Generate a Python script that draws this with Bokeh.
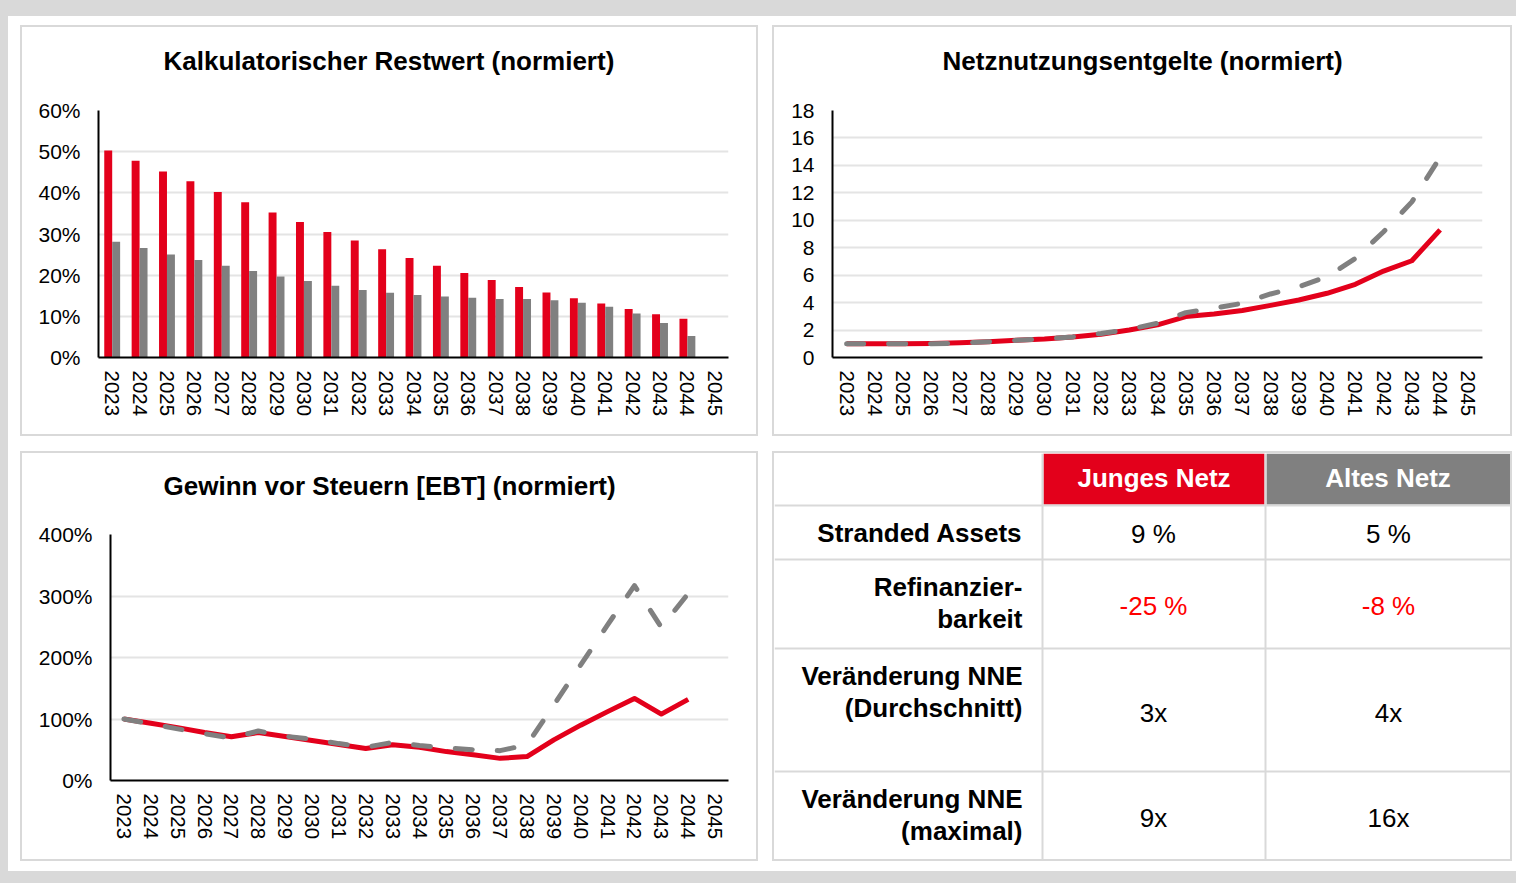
from bokeh.plotting import figure
from bokeh.layouts import row, column
from bokeh.models import (Range1d, FactorRange, NumeralTickFormatter,
                          FixedTicker, ColumnDataSource, Title)
from bokeh.transform import dodge
from bokeh.core.properties import value
from bokeh.embed import file_html
from bokeh.resources import INLINE

# ---------------- data ----------------
years = [str(y) for y in range(2023, 2046)]
data_years = years[:22]  # 2045 has no values

restwert_jung = [0.503, 0.478, 0.452, 0.428, 0.402, 0.377, 0.352, 0.329, 0.305, 0.284, 0.263,
                 0.242, 0.223, 0.205, 0.188, 0.171, 0.158, 0.144, 0.131, 0.118, 0.105, 0.094]
restwert_alt = [0.281, 0.266, 0.250, 0.237, 0.223, 0.210, 0.197, 0.186, 0.174, 0.164, 0.157,
                0.152, 0.148, 0.145, 0.142, 0.142, 0.139, 0.133, 0.123, 0.107, 0.084, 0.052]

nne_jung = [1.0, 1.0, 1.0, 1.02, 1.08, 1.15, 1.25, 1.35, 1.5, 1.7, 2.0,
            2.38, 2.98, 3.17, 3.42, 3.8, 4.19, 4.68, 5.33, 6.3, 7.05, 9.3]
nne_alt = [1.0, 1.0, 1.0, 1.0, 1.05, 1.15, 1.25, 1.35, 1.5, 1.75, 2.05,
           2.5, 3.27, 3.59, 3.95, 4.63, 5.16, 5.89, 7.22, 9.16, 11.34, 14.6]

ebt_jung = [1.00, 0.93, 0.86, 0.78, 0.71, 0.78, 0.715, 0.65, 0.585, 0.52, 0.58,
            0.54, 0.47, 0.42, 0.36, 0.39, 0.66, 0.90, 1.12, 1.335, 1.08, 1.32]
ebt_alt = [1.00, 0.92, 0.84, 0.76, 0.69, 0.805, 0.72, 0.67, 0.60, 0.54, 0.62,
           0.57, 0.53, 0.50, 0.485, 0.58, 1.23, 1.88, 2.53, 3.17, 2.49, 3.04]

ticks_restwert = [0, 0.1, 0.2, 0.3, 0.4, 0.5, 0.6]
ticks_nne = [0, 2, 4, 6, 8, 10, 12, 14, 16, 18]
ticks_ebt = [0, 1, 2, 3, 4]

table_cols = ["Junges Netz", "Altes Netz"]
table_rows = ["Stranded Assets", "Refinanzier-\nbarkeit",
              "Veränderung NNE\n(Durchschnitt)", "Veränderung NNE\n(maximal)"]
table_jung = ["9 %", "-25 %", "3x", "9x"]
table_alt = ["5 %", "-8 %", "4x", "16x"]

# ---------------- style ----------------
RED = "#e3001b"
GRAY = "#808080"
LIGHT = "#d9d9d9"
FONT = "Liberation Sans"
BORDER = {"border": "2px solid #d9d9d9"}


def base_fig(width, height, x_range, y_range, left, right, top, bottom, title, offset, gap):
    p = figure(width=width, height=height, x_range=x_range, y_range=y_range,
               output_backend="svg", toolbar_location=None,
               min_border_left=left, min_border_right=right,
               min_border_top=top, min_border_bottom=bottom,
               styles=BORDER, title=title)
    p.title.align = "left"
    p.title.offset = offset
    p.title.text_font = FONT
    p.title.text_font_size = "26px"
    p.title.text_font_style = "bold"
    p.title.text_color = "black"
    p.title.standoff = 0
    # blank spacer between the title and the plot area (white on white)
    p.add_layout(Title(text=" ", text_font_size="2px", text_color="white",
                       standoff=gap), "above")
    p.outline_line_color = None
    p.background_fill_color = "white"
    p.border_fill_color = "white"
    p.xgrid.grid_line_color = None
    p.ygrid.grid_line_color = "#e4e4e4"
    p.ygrid.grid_line_width = 2
    for ax in (p.xaxis[0], p.yaxis[0]):
        ax.axis_line_color = "black"
        ax.axis_line_width = 2
        ax.major_tick_line_color = None
        ax.minor_tick_line_color = None
        ax.major_tick_out = 0
        ax.major_tick_in = 0
        ax.major_label_text_font = FONT
        ax.major_label_text_color = "black"
    p.yaxis[0].major_label_text_font_size = "21px"
    p.yaxis[0].major_label_standoff = 18
    p.xaxis[0].major_label_text_font_size = "20.5px"
    p.xaxis[0].major_label_orientation = "vertical"
    p.xaxis[0].major_label_standoff = 13
    return p


# ---- chart 1: bars ----
p1 = base_fig(738, 411, FactorRange(factors=years), Range1d(0, 0.6),
              76, 32, 83, 81, "Kalkulatorischer Restwert (normiert)", 65, 31)
src1 = ColumnDataSource(dict(year=data_years, jung=restwert_jung, alt=restwert_alt))
p1.vbar(x=dodge("year", -0.145, range=p1.x_range), top="jung", width=0.29,
        source=src1, fill_color=RED, line_color=None)
p1.vbar(x=dodge("year", 0.145, range=p1.x_range), top="alt", width=0.29,
        source=src1, fill_color=GRAY, line_color=None)
p1.yaxis.ticker = FixedTicker(ticks=ticks_restwert)
p1.ygrid.ticker = FixedTicker(ticks=ticks_restwert)
p1.yaxis.formatter = NumeralTickFormatter(format="0%")

# ---- chart 2: NNE lines ----
p2 = base_fig(740, 411, FactorRange(factors=years), Range1d(0, 18),
              58, 32, 83, 81, "Netznutzungsentgelte (normiert)", 110, 31)
src2 = ColumnDataSource(dict(year=data_years, jung=nne_jung, alt=nne_alt))
p2.line(x="year", y="jung", source=src2, line_color=RED, line_width=5, line_join="round")
p2.line(x="year", y="alt", source=src2, line_color=GRAY, line_width=5,
        line_dash="17 25", line_cap="round", line_join="round")
p2.yaxis.ticker = FixedTicker(ticks=ticks_nne)
p2.ygrid.ticker = FixedTicker(ticks=ticks_nne)

# ---- chart 3: EBT lines ----
p3 = base_fig(738, 410, FactorRange(factors=years), Range1d(0, 4),
              88, 32, 81, 83, "Gewinn vor Steuern [EBT] (normiert)", 53, 30)
src3 = ColumnDataSource(dict(year=data_years, jung=ebt_jung, alt=ebt_alt))
p3.line(x="year", y="jung", source=src3, line_color=RED, line_width=5, line_join="round")
p3.line(x="year", y="alt", source=src3, line_color=GRAY, line_width=5,
        line_dash="17 25", line_cap="round", line_join="round")
p3.yaxis.ticker = FixedTicker(ticks=ticks_ebt)
p3.ygrid.ticker = FixedTicker(ticks=ticks_ebt)
p3.yaxis.formatter = NumeralTickFormatter(format="0%")

# ---- table ----
FW, FH = 740, 410          # figure canvas size
TW, TH = 736, 406          # visible area inside the 2px border
COL_EDGES = [0, 268, 491, TW]
ROW_EDGES = [0, 52, 106, 195, 318, TH]
LABEL_X = 248
VAL_X = [379, 614]
HEAD_Y = 24
LABEL_LINE_Y = [[79], [133, 165], [222, 254], [345, 377]]
VAL_Y = [80, 152, 259, 364]
VAL_COLORS = ["black", "#ff0000", "black", "black"]

pt = figure(width=FW, height=FH, x_range=Range1d(0, FW), y_range=Range1d(FH, 0),
            min_border=0, output_backend="svg", toolbar_location=None,
            x_axis_location=None, y_axis_location=None, styles=BORDER)
pt.grid.visible = False
pt.outline_line_color = None
pt.border_fill_color = "white"
pt.background_fill_color = "white"

pt.quad(left=[COL_EDGES[1] + 1, COL_EDGES[2] + 1], right=[COL_EDGES[2] - 1, COL_EDGES[3]],
        top=[0, 0], bottom=[ROW_EDGES[1] - 1, ROW_EDGES[1] - 1],
        fill_color=[RED, GRAY], line_color=None)
pt.segment(x0=[0] * 4, x1=[TW] * 4, y0=ROW_EDGES[1:5], y1=ROW_EDGES[1:5],
           line_color=LIGHT, line_width=2)
pt.segment(x0=COL_EDGES[1:3], x1=COL_EDGES[1:3], y0=[0, 0], y1=[TH, TH],
           line_color=LIGHT, line_width=2)

pt.text(x=[(COL_EDGES[1] + COL_EDGES[2]) / 2, (COL_EDGES[2] + COL_EDGES[3]) / 2],
        y=[HEAD_Y, HEAD_Y], text=table_cols, text_color="white",
        text_font=value(FONT), text_font_size="26px", text_font_style="bold",
        text_align="center", text_baseline="middle")

lx, ly, lt = [], [], []
for label, ys in zip(table_rows, LABEL_LINE_Y):
    for line, yy in zip(label.split("\n"), ys):
        lx.append(LABEL_X)
        ly.append(yy)
        lt.append(line)
pt.text(x=lx, y=ly, text=lt, text_color="black", text_font=value(FONT),
        text_font_size="26px", text_font_style="bold",
        text_align="right", text_baseline="middle")

for vals, vx in zip([table_jung, table_alt], VAL_X):
    pt.text(x=[vx] * len(vals), y=VAL_Y, text=vals, text_color=VAL_COLORS,
            text_font=value(FONT), text_font_size="26px",
            text_align="center", text_baseline="middle")

# ---- layout ----
r1 = row(p1, p2, spacing=14)
r2 = row(p3, column(pt), spacing=14)
root = column(r1, r2, spacing=15,
              styles={"padding": "9px 4px 10px 12px",
                      "background-color": "white",
                      "border-top": "16px solid #d9d9d9",
                      "border-left": "8px solid #d9d9d9",
                      "border-bottom": "12px solid #d9d9d9"})

open("out.html", "w").write(file_html(root, INLINE))
